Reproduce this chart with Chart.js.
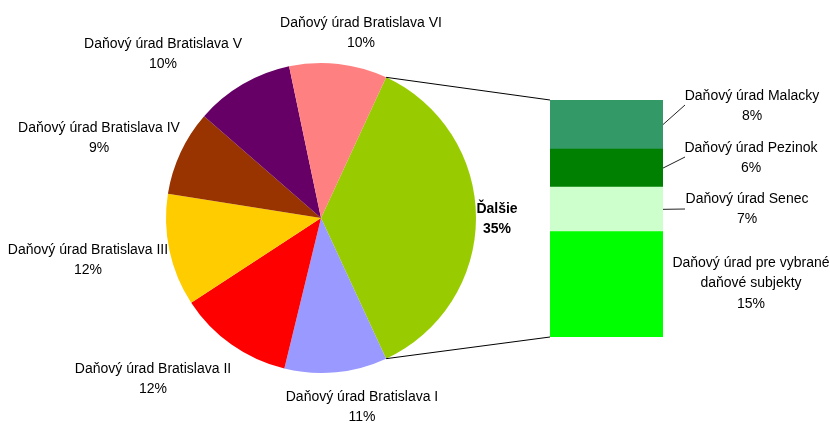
<!DOCTYPE html>
<html>
<head>
<meta charset="utf-8">
<script src="https://cdn.jsdelivr.net/npm/chart.js@4/dist/chart.umd.min.js"></script>
<style>
  html, body { margin: 0; padding: 0; background: #fff; }
  #wrap { position: relative; width: 830px; height: 423px; }
  canvas { position: absolute; left: 0; top: 0; }
</style>
</head>
<body>
<div id="wrap">
  <canvas id="pie" width="830" height="423"></canvas>
  <canvas id="bar" width="830" height="423"></canvas>
</div>
<script>
// ---- data ----
const pieCategories = ['Ďalšie', 'Daňový úrad Bratislava I', 'Daňový úrad Bratislava II',
  'Daňový úrad Bratislava III', 'Daňový úrad Bratislava IV', 'Daňový úrad Bratislava V',
  'Daňový úrad Bratislava VI'];
const pieValues = [36.2, 10.7, 12.0, 11.7, 8.9, 10.3, 10.2];
const pieLabelPct = ['35%', '11%', '12%', '12%', '9%', '10%', '10%'];

// bar segments, bottom to top
const barCategories = ['Daňový úrad pre vybrané daňové subjekty', 'Daňový úrad Senec',
  'Daňový úrad Pezinok', 'Daňový úrad Malacky'];
const barValues = [16.1, 6.8, 5.8, 7.5];
const barLabelPct = ['15%', '7%', '6%', '8%'];

// ---- styles / layout ----
const pieColors = ['#99CC00', '#9999FF', '#FF0000', '#FFCC00', '#993300', '#660066', '#FF8080'];
const barColors = ['#00FF00', '#CCFFCC', '#008000', '#339966'];
const FONT = '14px "Liberation Sans", Arial, sans-serif';
const BOLD = 'bold 14px "Liberation Sans", Arial, sans-serif';
const LH = 20.5;
// text lines per label (split of category names for display)
const pieLabelLines = pieCategories.map((c, i) => i === 0 ? [c] : [c]);
const pieLabelAt = [[497, 209], [362, 397], [153, 369], [88, 250], [99, 128], [163, 44], [361, 23]];
const barLabelLines = [['Daňový úrad pre vybrané', 'daňové subjekty'], ['Daňový úrad Senec'],
  ['Daňový úrad Pezinok'], ['Daňový úrad Malacky']];
const barLabelAt = [[751, 263], [747, 199], [751, 148], [752, 96]];
const leaderEnd = [null, [685, 209], [685, 157], [685, 105]];

const total = pieValues.reduce((a, b) => a + b, 0);
const rotation = 90 - (pieValues[0] / total) * 360 / 2;

const pieChart = new Chart(document.getElementById('pie'), {
  type: 'pie',
  data: {
    labels: pieCategories,
    datasets: [{ data: pieValues, backgroundColor: pieColors, borderWidth: 0 }]
  },
  options: {
    responsive: false,
    animation: false,
    rotation: rotation,
    layout: { padding: { left: 166, top: 63, right: 354, bottom: 50 } },
    plugins: { legend: { display: false }, tooltip: { enabled: false } }
  }
});

function drawLines(ctx, x, y, lines, font) {
  ctx.font = font;
  lines.forEach((t, k) => ctx.fillText(t, x, y + k * LH));
}

const overlay = {
  id: 'overlay',
  afterDraw(chart) {
    const ctx = chart.ctx;
    ctx.save();
    // connector lines from "Ďalšie" slice to the bar
    const arc = pieChart.getDatasetMeta(0).data[0];
    const r = arc.outerRadius;
    const p1 = [arc.x + r * Math.cos(arc.startAngle), arc.y + r * Math.sin(arc.startAngle)];
    const p2 = [arc.x + r * Math.cos(arc.endAngle), arc.y + r * Math.sin(arc.endAngle)];
    const topEl = chart.getDatasetMeta(barValues.length - 1).data[0];
    const botEl = chart.getDatasetMeta(0).data[0];
    const left = topEl.x - topEl.width / 2;
    const right = topEl.x + topEl.width / 2;
    ctx.strokeStyle = '#000';
    ctx.lineWidth = 1;
    ctx.beginPath();
    ctx.moveTo(p1[0], p1[1]); ctx.lineTo(left, topEl.y);
    ctx.moveTo(p2[0], p2[1]); ctx.lineTo(left, botEl.base);
    ctx.stroke();

    // leader lines for bar labels
    ctx.strokeStyle = '#222';
    ctx.beginPath();
    for (let i = 0; i < barValues.length; i++) {
      if (!leaderEnd[i]) continue;
      const el = chart.getDatasetMeta(i).data[0];
      const my = (el.y + el.base) / 2;
      ctx.moveTo(right, my);
      ctx.lineTo(leaderEnd[i][0], leaderEnd[i][1]);
    }
    ctx.stroke();

    // labels
    ctx.fillStyle = '#000';
    ctx.textAlign = 'center';
    ctx.textBaseline = 'middle';
    pieCategories.forEach((c, i) => {
      const [x, y] = pieLabelAt[i];
      drawLines(ctx, x, y, [...pieLabelLines[i], pieLabelPct[i]], i === 0 ? BOLD : FONT);
    });
    barCategories.forEach((c, i) => {
      const [x, y] = barLabelAt[i];
      drawLines(ctx, x, y, [...barLabelLines[i], barLabelPct[i]], FONT);
    });
    ctx.restore();
  }
};

new Chart(document.getElementById('bar'), {
  type: 'bar',
  data: {
    labels: ['Ďalšie'],
    datasets: barCategories.map((c, i) => ({
      label: c, data: [barValues[i]], backgroundColor: barColors[i],
      borderWidth: 0, barPercentage: 1, categoryPercentage: 1
    }))
  },
  options: {
    responsive: false,
    animation: false,
    layout: { padding: { left: 550, right: 167, top: 100, bottom: 86 } },
    scales: {
      x: { stacked: true, display: false },
      y: { stacked: true, display: false, min: 0, max: barValues.reduce((a, b) => a + b, 0) }
    },
    plugins: { legend: { display: false }, tooltip: { enabled: false } }
  },
  plugins: [overlay]
});
</script>
</body>
</html>
